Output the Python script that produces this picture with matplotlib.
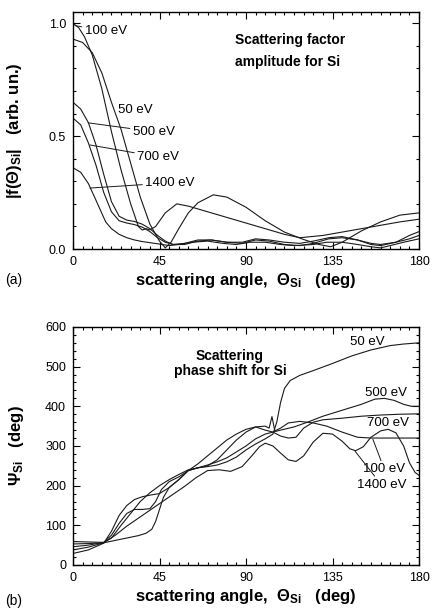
import matplotlib
matplotlib.use("Agg")
import matplotlib.pyplot as plt
from matplotlib.ticker import MultipleLocator

plt.rcParams["font.family"] = ["Liberation Sans", "DejaVu Sans"]
plt.rcParams["mathtext.fontset"] = "custom"
plt.rcParams["mathtext.rm"] = "Liberation Sans"
plt.rcParams["mathtext.bf"] = "Liberation Sans:bold"
plt.rcParams["mathtext.it"] = "Liberation Sans:italic"
plt.rcParams["mathtext.default"] = "bf"

# (a) scattering factor amplitude |f(theta)| for Si
amp_50_deg = [0, 5, 10, 15, 20, 25, 30, 35, 40, 45, 48, 51, 55, 60, 65, 73, 80, 90, 100,
              110, 120, 128, 134, 140, 150, 160, 170, 180]
amp_50 = [0.93, 0.915, 0.87, 0.78, 0.65, 0.53, 0.38, 0.23, 0.11, 0.035, 0.005, 0.03, 0.09,
          0.16, 0.205, 0.24, 0.23, 0.185, 0.125, 0.075, 0.042, 0.02, 0.01, 0.03, 0.08, 0.12,
          0.15, 0.16]

amp_100_deg = [0, 3, 6, 10, 15, 20, 25, 30, 34, 36, 38, 40, 43, 48, 54, 60, 70, 80, 90,
               100, 110, 118, 130, 140, 150, 160, 170, 180]
amp_100 = [1.0, 0.98, 0.94, 0.86, 0.71, 0.52, 0.35, 0.2, 0.1, 0.084, 0.09, 0.085, 0.1,
           0.16, 0.2, 0.19, 0.165, 0.14, 0.115, 0.09, 0.065, 0.05, 0.06, 0.075, 0.09, 0.105,
           0.12, 0.132]

amp_500_deg = [0, 4, 8, 12, 16, 20, 24, 28, 32, 36, 40, 44, 48, 52, 58, 65, 72, 80, 88, 95,
               102, 110, 118, 125, 133, 140, 148, 155, 160, 168, 175, 180]
amp_500 = [0.65, 0.62, 0.56, 0.46, 0.33, 0.21, 0.145, 0.128, 0.122, 0.11, 0.09, 0.06, 0.035,
           0.02, 0.02, 0.035, 0.04, 0.03, 0.025, 0.04, 0.035, 0.02, 0.015, 0.025, 0.045, 0.05,
           0.04, 0.02, 0.015, 0.03, 0.06, 0.077]

amp_700_deg = [0, 4, 8, 12, 16, 20, 24, 28, 32, 36, 40, 44, 48, 52, 58, 65, 72, 80, 88, 95,
               102, 110, 118, 125, 133, 140, 148, 155, 160, 168, 175, 180]
amp_700 = [0.58, 0.55, 0.47, 0.37, 0.25, 0.165, 0.125, 0.115, 0.108, 0.097, 0.077, 0.05, 0.03,
           0.02, 0.025, 0.04, 0.04, 0.03, 0.03, 0.045, 0.04, 0.03, 0.025, 0.035, 0.05, 0.055,
           0.04, 0.025, 0.02, 0.03, 0.045, 0.06]

amp_1400_deg = [0, 4, 8, 12, 17, 20, 24, 28, 32, 36, 40, 45, 50, 55, 62, 70, 78, 85, 92, 100,
                108, 115, 125, 132, 140, 148, 155, 160, 165, 172, 180]
amp_1400 = [0.36, 0.34, 0.29, 0.215, 0.12, 0.09, 0.065, 0.05, 0.04, 0.033, 0.028, 0.022,
            0.015, 0.02, 0.03, 0.035, 0.025, 0.02, 0.03, 0.03, 0.02, 0.015, 0.02, 0.03, 0.03,
            0.02, 0.01, 0.005, 0.015, 0.03, 0.045]

# (b) scattering phase shift psi for Si
ph_50_deg = [0, 8, 16, 22, 28, 34, 38, 41, 43, 45, 47, 50, 55, 60, 65, 70, 75, 80, 85, 90,
             95, 100, 104, 106, 108, 110, 113, 118, 125, 135, 145, 155, 165, 172, 180]
ph_50 = [38, 45, 56, 62, 68, 74, 80, 90, 110, 140, 170, 195, 215, 238, 245, 248, 252, 260,
         272, 290, 305, 318, 330, 360, 410, 445, 465, 478, 490, 508, 527, 542, 553, 557, 560]

ph_100_deg = [0, 8, 16, 20, 25, 30, 35, 40, 45, 50, 55, 60, 65, 70, 75, 80, 85, 90, 95, 100,
              102, 103.5, 105, 108, 112, 118, 125, 132, 140, 148, 155, 165, 180]
ph_100 = [59, 58, 57, 68, 100, 130, 160, 182, 200, 215, 228, 240, 245, 250, 265, 290, 315,
          335, 348, 350, 345, 374, 338, 345, 358, 362, 358, 350, 335, 322, 320, 320, 320]

ph_500_deg = [0, 8, 16, 20, 24, 28, 32, 36, 40, 43, 46, 50, 55, 60, 65, 70, 75, 80, 85, 90,
              95, 100, 104, 108, 115, 122, 130, 140, 150, 157, 162, 167, 172, 176, 180]
ph_500 = [46, 50, 57, 75, 105, 130, 140, 140, 142, 160, 190, 210, 222, 238, 245, 252, 260,
          270, 285, 300, 318, 330, 335, 340, 348, 360, 375, 390, 405, 418, 420, 415, 405, 400,
          400]

ph_700_deg = [0, 8, 16, 20, 24, 28, 32, 36, 40, 45, 50, 55, 60, 65, 70, 75, 80, 85, 90, 95,
              100, 104, 108, 112, 116, 120, 125, 130, 140, 150, 160, 170, 180]
ph_700 = [29, 38, 55, 85, 125, 150, 165, 172, 176, 180, 195, 215, 238, 255, 275, 295, 315,
          330, 342, 348, 340, 335, 325, 320, 322, 345, 360, 366, 370, 375, 378, 380, 381]

ph_1400_deg = [0, 8, 16, 22, 28, 34, 40, 46, 52, 58, 64, 70, 76, 82, 88, 93, 97, 100, 104,
               108, 112, 116, 120, 125, 130, 135, 140, 144, 147, 151, 155, 160, 164, 168, 172,
               175, 178, 180]
ph_1400 = [53, 54, 56, 75, 98, 118, 138, 158, 178, 198, 220, 238, 240, 236, 248, 275, 298,
           307, 300, 282, 265, 261, 275, 310, 332, 330, 312, 293, 288, 298, 322, 338, 342, 333,
           300, 258, 233, 226]

fig = plt.figure(figsize=(4.33, 6.10), dpi=100)
ax1 = fig.add_axes([0.1686, 0.5918, 0.7991, 0.3885])
ax2 = fig.add_axes([0.1686, 0.0738, 0.7991, 0.3902])

line_kw = dict(color="#1a1a1a", lw=0.8)
for xs, ys in [(amp_50_deg, amp_50), (amp_100_deg, amp_100), (amp_500_deg, amp_500),
               (amp_700_deg, amp_700), (amp_1400_deg, amp_1400)]:
    ax1.plot(xs, ys, **line_kw)
for xs, ys in [(ph_50_deg, ph_50), (ph_100_deg, ph_100), (ph_500_deg, ph_500),
               (ph_700_deg, ph_700), (ph_1400_deg, ph_1400)]:
    ax2.plot(xs, ys, **line_kw)

for ax in (ax1, ax2):
    ax.set_xlim(0, 180)
    ax.xaxis.set_major_locator(MultipleLocator(45))
    ax.xaxis.set_minor_locator(MultipleLocator(5))
    ax.tick_params(which="both", direction="in", top=True, right=True, labelsize=9,
                   width=0.8, pad=5)
    ax.tick_params(which="major", length=5)
    ax.tick_params(which="minor", length=2.5)
    for s in ax.spines.values():
        s.set_linewidth(1.0)
    ax.set_xlabel(r"scattering angle,  $\Theta_{Si}$   (deg)", fontsize=12,
                  fontweight="bold", labelpad=2)

ax1.set_ylim(0, 1.05)
ax1.yaxis.set_minor_locator(MultipleLocator(0.1))
ax1.set_yticks([0, 0.5, 1.0])
ax1.set_yticklabels(["0.0", "0.5", "1.0"])
ax1.set_ylabel(r"|f($\Theta$)$_{Si}$|   (arb. un.)", fontsize=12, fontweight="bold",
               labelpad=18)

ax2.set_ylim(0, 600)
ax2.yaxis.set_major_locator(MultipleLocator(100))
ax2.yaxis.set_minor_locator(MultipleLocator(20))
ax2.set_ylabel(r"$\Psi_{Si}$   (deg)", fontsize=12, fontweight="bold", labelpad=14)

lead = dict(arrowstyle="-", lw=0.7, color="#1a1a1a", shrinkA=0, shrinkB=0)
fs = 9.5

# energy labels, panel (a)
ax1.annotate("100 eV", xy=(1.0, 0.99), xytext=(6.0, 0.965), fontsize=fs, va="center",
             arrowprops=lead)
ax1.text(23.5, 0.615, "50 eV", fontsize=fs, va="center")
ax1.annotate("500 eV", xy=(7.8, 0.559), xytext=(31.0, 0.52), fontsize=fs, va="center",
             arrowprops=lead)
ax1.annotate("700 eV", xy=(8.8, 0.461), xytext=(33.3, 0.408), fontsize=fs, va="center",
             arrowprops=lead)
ax1.annotate("1400 eV", xy=(8.8, 0.27), xytext=(37.5, 0.293), fontsize=fs, va="center",
             arrowprops=lead)
ax1.text(84.3, 0.925, "Scattering factor", fontsize=10, fontweight="bold", va="center")
ax1.text(84.3, 0.83, "amplitude for Si", fontsize=10, fontweight="bold", va="center")

# energy labels, panel (b)
ax2.text(144, 562, "50 eV", fontsize=fs, va="center")
ax2.text(152, 433, "500 eV", fontsize=fs, va="center")
ax2.text(153, 357, "700 eV", fontsize=fs, va="center")
ax2.annotate("100 eV", xy=(156, 317), xytext=(151, 241), fontsize=fs, va="center",
             arrowprops=lead)
ax2.annotate("1400 eV", xy=(146.7, 287), xytext=(147.6, 202), fontsize=fs, va="center",
             arrowprops=lead)
ax2.text(81.7, 527, "Scattering", fontsize=10, fontweight="bold", ha="center", va="center")
ax2.text(81.7, 488, "phase shift for Si", fontsize=10, fontweight="bold", ha="center",
         va="center")

fig.text(0.012, 0.535, "(a)", fontsize=10)
fig.text(0.012, 0.008, "(b)", fontsize=10)

fig.savefig("out.png", dpi=100)
